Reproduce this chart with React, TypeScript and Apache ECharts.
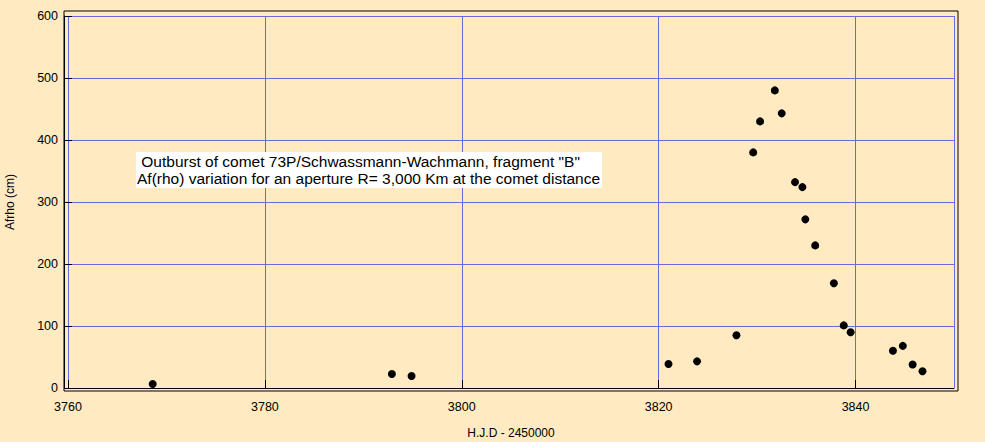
import React, { useEffect, useRef } from "react";
import * as echarts from "echarts";

const hjd: number[] = [
  3768.6, 3792.9, 3794.9, 3821.0, 3823.9, 3827.9, 3829.6, 3830.3, 3831.8, 3832.5,
  3833.85, 3834.6, 3834.9, 3835.9, 3837.8, 3838.8, 3839.5, 3843.8, 3844.8, 3845.8, 3846.8,
];
const afrho: number[] = [
  6.5, 22.6, 19.4, 38.7, 43, 85, 380, 430, 480, 443,
  332, 324, 272, 230, 169, 101, 90, 60, 68, 38, 27,
];
const titleLines: string[] = [
  ' Outburst of comet 73P/Schwassmann-Wachmann, fragment "B"',
  "Af(rho) variation for an aperture R= 3,000 Km at the comet distance",
];
const xName = "H.J.D - 2450000";
const yName = "Afrho (cm)";

const BG = "#FFEAC2";
const GRID = "#6A6AE0";
const FONT = "'Liberation Sans', Arial, sans-serif";

export default function App() {
  const ref = useRef<HTMLDivElement>(null);
  useEffect(() => {
    if (!ref.current) return;
    const chart = echarts.init(ref.current, undefined, { renderer: "svg" });
    chart.setOption({
      animation: false,
      backgroundColor: BG,
      textStyle: { fontFamily: FONT },
      grid: { left: 68, right: 31, top: 16, bottom: 54, outerBoundsMode: "none", containLabel: false },
      xAxis: {
        type: "value",
        min: 3760,
        max: 3850,
        interval: 20,
        offset: 3,
        name: xName,
        nameLocation: "middle",
        nameGap: 36,
        nameTextStyle: { color: "#000", fontSize: 12, fontFamily: FONT },
        axisLine: { show: true, lineStyle: { color: "#000", width: 1 } },
        axisTick: { show: true, inside: true, length: 8, lineStyle: { color: "#000" } },
        axisLabel: {
          color: "#000",
          fontSize: 12.5,
          margin: 9,
          showMaxLabel: false,
          fontFamily: FONT,
          formatter: (v: number) => String(v),
        },
        splitLine: { show: true, lineStyle: { color: GRID, width: 1 } },
      },
      yAxis: {
        type: "value",
        min: 0,
        max: 600,
        interval: 100,
        offset: 4,
        name: yName,
        nameLocation: "middle",
        nameGap: 48,
        nameTextStyle: { color: "#000", fontSize: 12, fontFamily: FONT },
        axisLine: { show: true, lineStyle: { color: "#000", width: 1 } },
        axisTick: { show: true, inside: true, length: 8, lineStyle: { color: "#000" } },
        axisLabel: {
          color: "#000",
          fontSize: 12.5,
          margin: 6,
          fontFamily: FONT,
          formatter: (v: number) => String(v),
        },
        splitLine: { show: true, lineStyle: { color: GRID, width: 1 } },
      },
      graphic: [
        {
          type: "rect",
          shape: { x: 64, y: 11, width: 894, height: 380 },
          style: { fill: "none", stroke: "#000", lineWidth: 1 },
          silent: true,
          z: 10,
        },
        {
          type: "text",
          x: 136,
          y: 152,
          style: {
            text: titleLines.join("\n"),
            font: `15.5px ${FONT}`,
            fill: "#000",
            backgroundColor: "#fff",
            lineHeight: 17,
            padding: [1, 2, 1, 1],
          },
          z: 10,
        },
      ],
      series: [
        {
          type: "scatter",
          symbol: "circle",
          symbolSize: 8,
          itemStyle: { color: "#000", opacity: 1 },
          data: hjd.map((x, i) => [x, afrho[i]]),
        },
      ],
    });
    return () => chart.dispose();
  }, []);
  return (
    <div
      ref={ref}
      style={{ position: "absolute", left: 0, top: 0, width: 985, height: 442 }}
    />
  );
}
